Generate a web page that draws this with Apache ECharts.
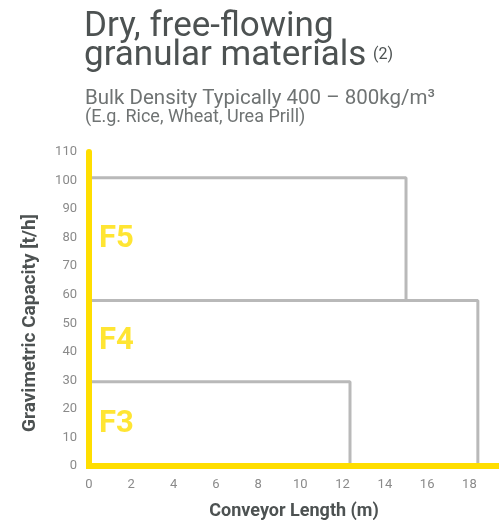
<!DOCTYPE html>
<html>
<head>
<meta charset="utf-8">
<script src="https://cdn.jsdelivr.net/npm/echarts@6/dist/echarts.min.js"></script>
<style>
html,body{margin:0;padding:0;background:#fff;}
#chart{width:499px;height:520px;}
</style>
</head>
<body>
<div id="chart"></div>
<script>
// ---- data ----
const bandNames = ['F3', 'F4', 'F5'];
const bandMaxLength = [12.35, 18.4, 15.0];     // conveyor length (m)
const bandMaxCapacity = [29.5, 58, 101];       // gravimetric capacity (t/h)
const xTicks = [0, 2, 4, 6, 8, 10, 12, 14, 16, 18];
const yTicks = [0, 10, 20, 30, 40, 50, 60, 70, 80, 90, 100, 110];
const titleLines = ['Dry, free-flowing', 'granular materials'];
const titleNote = '(2)';
const subtitleLines = ['Bulk Density Typically 400 – 800kg/m³', '(E.g. Rice, Wheat, Urea Prill)'];
const xName = 'Conveyor Length (m)';
const yName = 'Gravimetric Capacity [t/h]';

const YELLOW = '#FFDE00';
const GRAY = '#b9b9b9';
const FONT = 'Roboto, "Noto Sans", sans-serif';

const chart = echarts.init(document.getElementById('chart'));

// vertical edge of each band stops on the top edge of a lower band that is at least as long
function verticalEnd(i) {
  let end = 0;
  for (let j = 0; j < i; j++) {
    if (bandMaxLength[j] >= bandMaxLength[i]) end = Math.max(end, bandMaxCapacity[j]);
  }
  return end;
}

const lineSeries = bandNames.map((n, i) => ({
  type: 'line',
  name: n,
  data: [[0, bandMaxCapacity[i]], [bandMaxLength[i], bandMaxCapacity[i]], [bandMaxLength[i], verticalEnd(i)]],
  symbol: 'none',
  silent: true,
  lineStyle: { color: GRAY, width: 3 },
  z: 2
}));

const labelSeries = {
  type: 'scatter',
  symbolSize: 0,
  silent: true,
  data: bandNames.map((n, i) => ({
    name: n,
    value: [0, ((i === 0 ? 0 : bandMaxCapacity[i - 1]) + bandMaxCapacity[i]) / 2]
  })),
  label: {
    show: true,
    position: 'right',
    distance: 10,
    formatter: p => p.name,
    color: YELLOW,
    fontFamily: FONT,
    fontWeight: 'bold',
    fontSize: 31
  },
  z: 3
};

chart.setOption({
  animation: false,
  backgroundColor: '#fff',
  grid: { left: 89, right: 0, top: 152, bottom: 54, containLabel: false, outerBoundsMode: 'none' },
  xAxis: {
    type: 'value', min: 0, max: 19.4, interval: 2, z: 5,
    name: xName, nameLocation: 'middle', nameGap: 36,
    nameTextStyle: { color: '#4d5252', fontFamily: FONT, fontWeight: 'bold', fontSize: 18 },
    axisLine: { show: true, lineStyle: { color: YELLOW, width: 6, cap: 'square' } },
    axisTick: { show: false },
    splitLine: { show: false },
    axisLabel: {
      color: '#8a8a8a', fontFamily: FONT, fontSize: 13, margin: 12,
      showMaxLabel: false,
      formatter: v => (xTicks.indexOf(v) >= 0 ? String(v) : '')
    }
  },
  yAxis: {
    type: 'value', min: 0, max: 110, interval: 10, z: 5,
    name: yName, nameLocation: 'middle', nameGap: 49,
    nameTextStyle: { color: '#4d5252', fontFamily: FONT, fontWeight: 'bold', fontSize: 19, padding: [0, 28, 0, 0] },
    axisLine: { show: true, lineStyle: { color: YELLOW, width: 6 } },
    axisTick: { show: false },
    splitLine: { show: false },
    axisLabel: {
      color: '#8a8a8a', fontFamily: FONT, fontSize: 13, margin: 12,
      formatter: v => (yTicks.indexOf(v) >= 0 ? String(v) : '')
    }
  },
  graphic: [
    { type: 'text', left: 84, top: 10, style: { text: titleLines[0], font: '35px ' + FONT, fill: '#4d5252' } },
    { type: 'text', left: 84, top: 39, style: { text: titleLines[1], font: '35px ' + FONT, fill: '#4d5252' } },
    { type: 'text', left: 373, top: 47, style: { text: titleNote, font: '16px ' + FONT, fill: '#4d5252' } },
    { type: 'text', left: 85, top: 88, style: { text: subtitleLines[0], font: '20.5px ' + FONT, fill: '#6f7373' } },
    { type: 'text', left: 85, top: 108, style: { text: subtitleLines[1], font: '18px ' + FONT, fill: '#6f7373' } }
  ],
  series: lineSeries.concat([labelSeries])
});
</script>
</body>
</html>
